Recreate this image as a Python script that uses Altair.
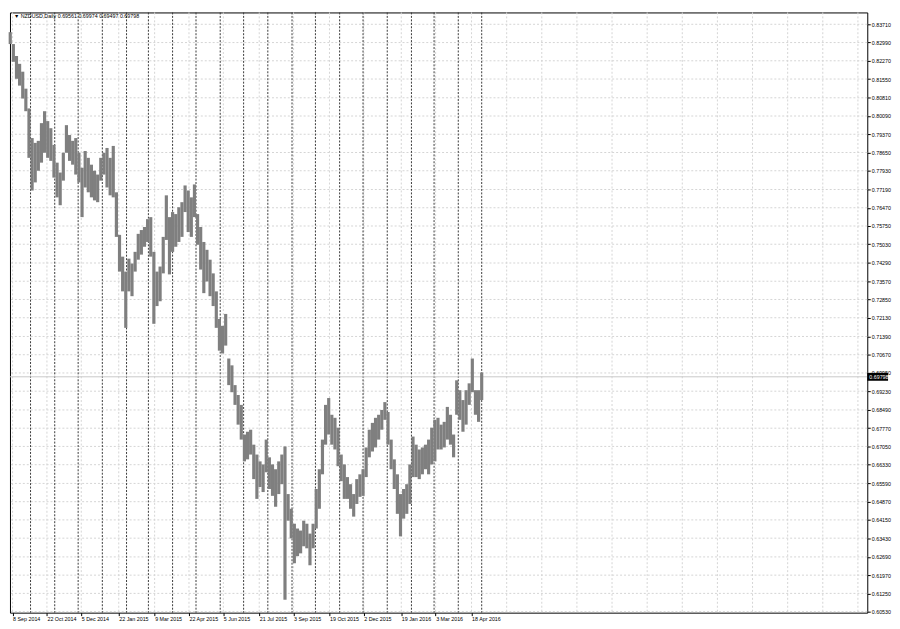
import altair as alt
import pandas as pd

# ---- data (NZDUSD, one bar per 4 calendar days) ----
highs = [0.8340, 0.8293, 0.8246, 0.8215, 0.8184, 0.8117, 0.8039, 0.7922, 0.7903, 0.7911,
         0.7981, 0.8028, 0.7989, 0.7961, 0.7895, 0.7825, 0.7786, 0.7864, 0.7973, 0.7934,
         0.7911, 0.7922, 0.7864, 0.7805, 0.7871, 0.7844, 0.7817, 0.7793, 0.7778, 0.7844,
         0.7864, 0.7883, 0.7844, 0.7891, 0.7708, 0.7540, 0.7454, 0.7395, 0.7446, 0.7427,
         0.7473, 0.7544, 0.7559, 0.7571, 0.7602, 0.7610, 0.7473, 0.7395, 0.7415, 0.7532,
         0.7696, 0.7610, 0.7630, 0.7622, 0.7649, 0.7669, 0.7735, 0.7715, 0.7688, 0.7739,
         0.7622, 0.7571, 0.7512, 0.7481, 0.7442, 0.7388, 0.7317, 0.7208, 0.7181, 0.7228,
         0.7052, 0.7025, 0.6947, 0.6908, 0.6869, 0.6752, 0.6763, 0.6771, 0.6712, 0.6673,
         0.6646, 0.6634, 0.6732, 0.6662, 0.6634, 0.6615, 0.6646, 0.6673, 0.6705, 0.6517,
         0.6459, 0.6400, 0.6381, 0.6373, 0.6412, 0.6400, 0.6361, 0.6400, 0.6537, 0.6615,
         0.6732, 0.6869, 0.6896, 0.6830, 0.6818, 0.6779, 0.6673, 0.6634, 0.6584, 0.6556,
         0.6517, 0.6576, 0.6595, 0.6615, 0.6701, 0.6771, 0.6798, 0.6818, 0.6830, 0.6849,
         0.6880, 0.6841, 0.6732, 0.6654, 0.6595, 0.6517, 0.6537, 0.6556, 0.6634, 0.6744,
         0.6712, 0.6693, 0.6701, 0.6712, 0.6732, 0.6779, 0.6810, 0.6818, 0.6791, 0.6802,
         0.6861, 0.6830, 0.6752, 0.6966, 0.6927, 0.6888, 0.6927, 0.6954, 0.7052, 0.6927,
         0.6927, 0.6997]
lows = [0.8293, 0.8223, 0.8156, 0.8129, 0.8078, 0.8028, 0.7844, 0.7715, 0.7747, 0.7793,
        0.7825, 0.7864, 0.7844, 0.7832, 0.7766, 0.7688, 0.7657, 0.7754, 0.7864, 0.7832,
        0.7817, 0.7778, 0.7747, 0.7610, 0.7727, 0.7708, 0.7688, 0.7676, 0.7669, 0.7754,
        0.7778, 0.7727, 0.7696, 0.7688, 0.7532, 0.7395, 0.7317, 0.7173, 0.7317, 0.7298,
        0.7395, 0.7442, 0.7462, 0.7493, 0.7512, 0.7454, 0.7189, 0.7259, 0.7278, 0.7388,
        0.7520, 0.7384, 0.7473, 0.7493, 0.7512, 0.7532, 0.7630, 0.7551, 0.7532, 0.7610,
        0.7501, 0.7403, 0.7310, 0.7356, 0.7298, 0.7259, 0.7173, 0.7083, 0.7072, 0.7103,
        0.6947, 0.6919, 0.6869, 0.6791, 0.6732, 0.6646, 0.6654, 0.6673, 0.6576, 0.6498,
        0.6545, 0.6525, 0.6603, 0.6537, 0.6510, 0.6467, 0.6517, 0.6556, 0.6100, 0.6412,
        0.6342, 0.6244, 0.6272, 0.6283, 0.6311, 0.6303, 0.6236, 0.6303, 0.6381, 0.6459,
        0.6595, 0.6712, 0.6752, 0.6712, 0.6693, 0.6627, 0.6568, 0.6498, 0.6498, 0.6459,
        0.6428, 0.6478, 0.6506, 0.6510, 0.6584, 0.6662, 0.6685, 0.6701, 0.6732, 0.6771,
        0.6810, 0.6712, 0.6615, 0.6537, 0.6439, 0.6350, 0.6420, 0.6439, 0.6478, 0.6584,
        0.6584, 0.6576, 0.6595, 0.6615, 0.6595, 0.6634, 0.6646, 0.6693, 0.6693, 0.6701,
        0.6732, 0.6712, 0.6662, 0.6830, 0.6810, 0.6763, 0.6791, 0.6869, 0.6919, 0.6830,
        0.6802, 0.6888]
bar_dates = pd.date_range("2014-09-05", periods=len(highs), freq="4D")

price_ticks = [0.83710, 0.82990, 0.82270, 0.81550, 0.80810, 0.80090, 0.79370, 0.78650,
               0.77930, 0.77190, 0.76470, 0.75750, 0.75030, 0.74290, 0.73570, 0.72850,
               0.72130, 0.71390, 0.70670, 0.69950, 0.69230, 0.68490, 0.67770, 0.67050,
               0.66330, 0.65590, 0.64870, 0.64150, 0.63430, 0.62690, 0.61970, 0.61250,
               0.60530]
label_dates = ["2014-09-08", "2014-10-22", "2014-12-05", "2015-01-22", "2015-03-09",
               "2015-04-22", "2015-06-05", "2015-07-21", "2015-09-03", "2015-10-19",
               "2015-12-02", "2016-01-19", "2016-03-03", "2016-04-18"]
future_grid_dates = ["2016-06-02", "2016-07-17", "2016-08-31", "2016-10-15", "2016-11-29",
                     "2017-01-13", "2017-02-27", "2017-04-13", "2017-05-28", "2017-07-12",
                     "2017-08-26"]
separator_dates = ["2014-10-01", "2014-11-01", "2014-12-01", "2015-01-01", "2015-02-01",
                   "2015-03-01", "2015-04-01", "2015-05-01", "2015-06-01", "2015-07-01",
                   "2015-08-01", "2015-09-01", "2015-10-01", "2015-11-01", "2015-12-01",
                   "2016-01-01", "2016-02-01", "2016-03-01", "2016-04-01", "2016-05-01"]
last_price = 0.69798
header = "\u25BC NZDUSD,Daily  0.69561 0.69974 0.69497 0.69798"

FONT = "Liberation Sans"
FS = 5.4
W, H = 867, 607


def dt(s):
    t = pd.Timestamp(s)
    return alt.DateTime(year=t.year, month=t.month, date=t.day)


bars = pd.DataFrame({"date": bar_dates, "high": highs, "low": lows})
grid_x = pd.DataFrame({"date": pd.to_datetime(label_dates + future_grid_dates)})
sep_x = pd.DataFrame({"date": pd.to_datetime(separator_dates)})
grid_y = pd.DataFrame({"price": price_ticks})
bid = pd.DataFrame({"price": [last_price], "label": [f"{last_price:.5f}"]})
head = pd.DataFrame({"t": [header]})

x_scale = alt.Scale(domain=[alt.DateTime(year=2014, month=9, date=4, hours=16),
                            alt.DateTime(year=2017, month=9, date=7)])
y_scale = alt.Scale(domain=[0.6049, 0.84178], zero=False, nice=False)

x_axis = alt.Axis(values=[dt(d) for d in label_dates], format="%-d %b %Y", title=None,
                  grid=False, domain=False, ticks=True, tickSize=3, tickColor="#000",
                  labelAlign="left", labelPadding=1, labelFlush=False,
                  labelFont=FONT, labelFontSize=FS, labelColor="#000", labelOverlap=False)
y_axis = alt.Axis(values=price_ticks, format=".5f", title=None, orient="right",
                  grid=False, domain=False, ticks=True, tickSize=3, tickColor="#000",
                  labelPadding=1, labelFont=FONT, labelFontSize=FS, labelColor="#000",
                  labelOverlap=False, labelFlush=False, labelBaseline="middle")


def X(field="date:T"):
    return alt.X(field, scale=x_scale, axis=x_axis)


def Y(field):
    return alt.Y(field, scale=y_scale, axis=y_axis)


hgrid = alt.Chart(grid_y).mark_rule(color="#d4d4d4", strokeDash=[2, 2], strokeWidth=1).encode(
    y=Y("price:Q"))
vgrid = alt.Chart(grid_x).mark_rule(color="#d4d4d4", strokeDash=[2, 2], strokeWidth=1).encode(
    x=X())
seps = alt.Chart(sep_x).mark_rule(color="#3a3a3a", strokeDash=[2, 1.5], strokeWidth=1).encode(
    x=X())
bidline = alt.Chart(bid).mark_rule(color="#c8c8c8", strokeWidth=1).encode(
    y=Y("price:Q"))
price_bars = alt.Chart(bars).mark_rule(color="#7f7f7f", strokeWidth=3.2, strokeCap="butt").encode(
    x=X(),
    y=Y("low:Q"),
    y2="high:Q")
box = alt.Chart(bid).mark_rule(color="#000", strokeWidth=8, strokeCap="butt").encode(
    x=alt.value(W), x2=alt.value(W + 21), y=Y("price:Q"))
box_text = alt.Chart(bid).mark_text(color="#fff", align="left", baseline="middle",
                                    font=FONT, fontSize=FS).encode(
    x=alt.value(W + 2), y=Y("price:Q"), text="label:N")
title_text = alt.Chart(head).mark_text(color="#000", align="left", baseline="middle",
                                       font=FONT, fontSize=FS).encode(
    x=alt.value(4), y=alt.value(4), text="t:N")

chart = alt.layer(hgrid, vgrid, seps, bidline, price_bars, box, box_text, title_text).properties(
    width=W, height=H,
    padding=0,
    background="#ffffff",
).configure_view(stroke="#000", strokeWidth=1)

chart.save("out.html", embed_options={"renderer": "svg", "actions": False})
